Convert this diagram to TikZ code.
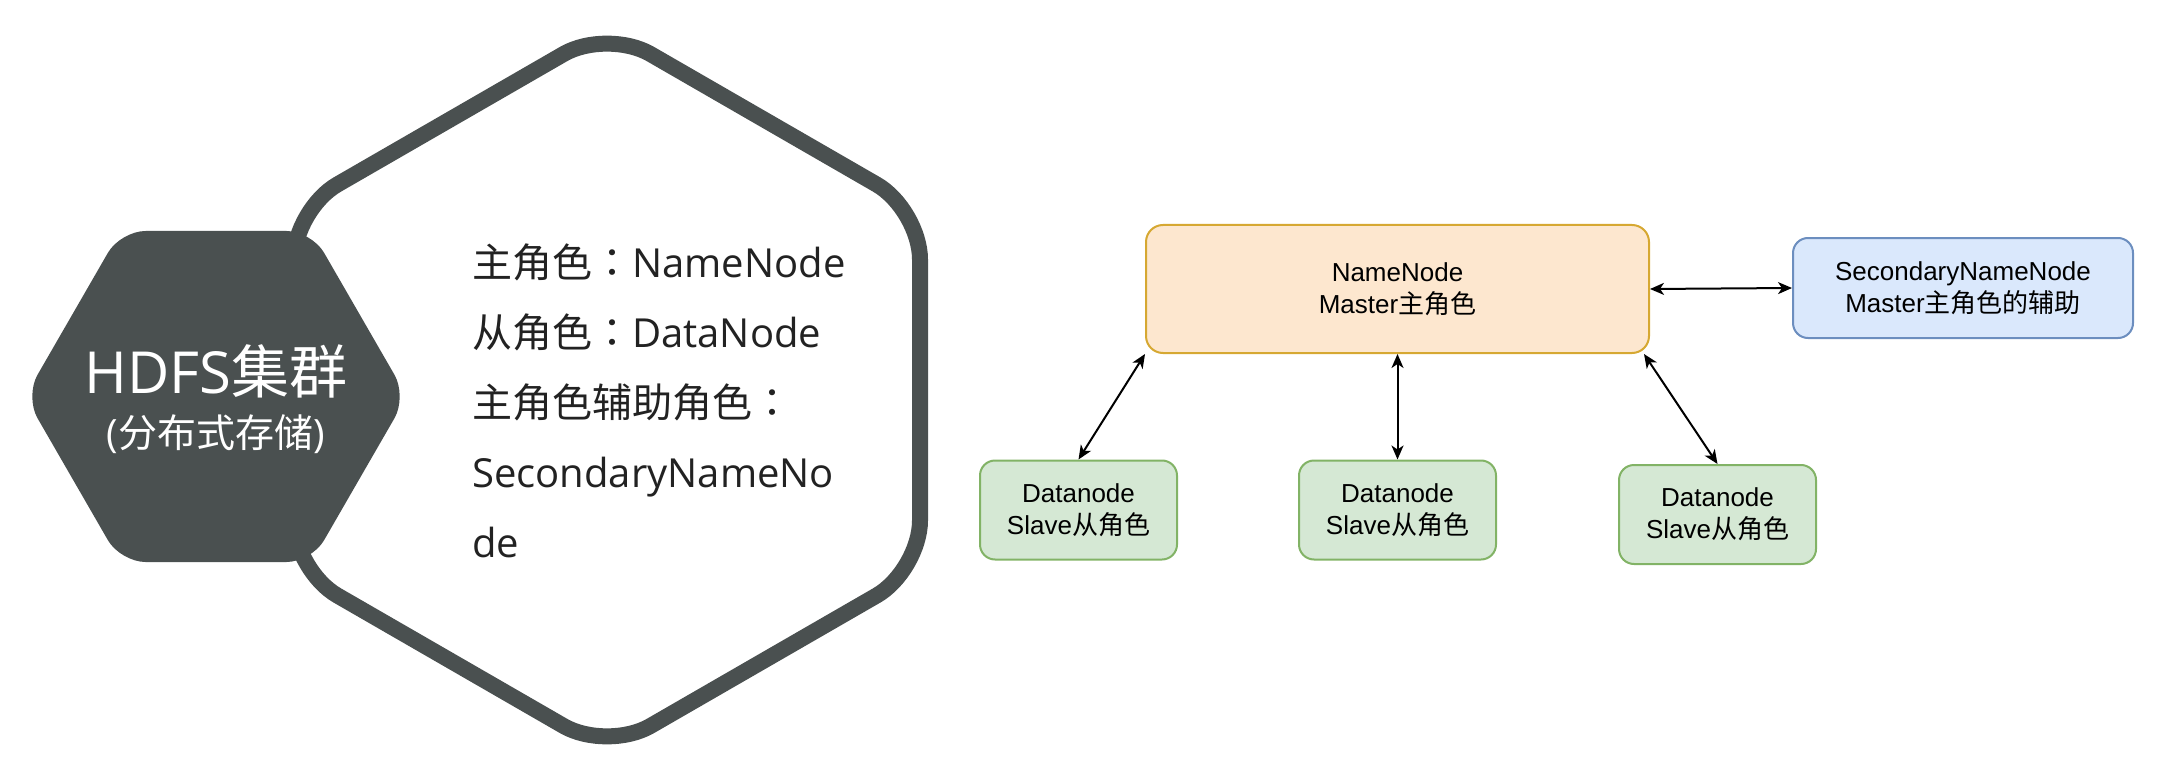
\documentclass[tikz,border=0pt]{standalone}
\usepackage{fontspec}
\setmainfont{Liberation Sans}
\newfontfamily\cjkfont{Noto Sans CJK SC}
\newfontfamily\cjkcolonfont{Noto Sans CJK TC}
\newfontfamily\latfont{Open Sans}
\newcommand{\zhtxt}[1]{{\cjkfont #1}}
\newcommand{\zhcolon}{{\cjkcolonfont ：}}
\usetikzlibrary{arrows.meta}
\definecolor{hexgray}{HTML}{4A5050}
\definecolor{txtdark}{HTML}{222222}
\definecolor{orfill}{HTML}{FDE7CF}
\definecolor{ordraw}{HTML}{D6A832}
\definecolor{blfill}{HTML}{DAE8FC}
\definecolor{bldraw}{HTML}{6C8EBF}
\definecolor{grfill}{HTML}{D5E8D4}
\definecolor{grdraw}{HTML}{82B366}
\begin{document}
\begin{tikzpicture}[x=1pt,y=-1pt,
  box/.style={draw, line width=2pt, rounded corners=17pt, align=center,
    font=\fontsize{26}{32}\selectfont, text=black, inner sep=0pt},
  nnbox/.style={box, fill=orfill, draw=ordraw, minimum width=503pt, minimum height=128pt},
  snbox/.style={box, fill=blfill, draw=bldraw, minimum width=340pt, minimum height=100pt, rounded corners=15pt},
  dnbox/.style={box, fill=grfill, draw=grdraw, minimum width=197pt, minimum height=99pt, rounded corners=15pt},
  link/.style={line width=2pt, draw=black,
    {Stealth[length=14pt,width=12pt,inset=4pt]}-{Stealth[length=14pt,width=12pt,inset=4pt]}},
  lefttxt/.style={anchor=base west, inner sep=0pt, text=txtdark, font=\latfont\fontsize{40}{48}\selectfont},
  hextxt/.style={anchor=base, inner sep=0pt, text=white}
]
\useasboundingbox (0,0) rectangle (2160,778);

% big outlined hexagon
\draw[hexgray, line width=16pt, rounded corners=50pt, fill=white]
  (763.5,119.25) -- (920,209.5) -- (920,570.5) -- (607,751) -- (294,570.5)
  -- (294,209.5) -- (607,29) -- cycle;

% small filled hexagon
\fill[hexgray, rounded corners=25pt]
  (216,231) -- (311.5,231) -- (407,396.5) -- (311.5,562) -- (120.5,562)
  -- (25,396.5) -- (120.5,231) -- cycle;

\node[hextxt, font=\latfont\fontsize{58}{64}\selectfont] (title) at (216,393) {HDFS\zhtxt{集群}};
\node[hextxt, font=\latfont\fontsize{39}{44}\selectfont] (subtitle) at (216,447) {(\zhtxt{分布式存储})};

\node[lefttxt] (l1) at (472,277) {\zhtxt{主角色}\zhcolon NameNode};
\node[lefttxt] (l2) at (472,347) {\zhtxt{从角色}\zhcolon DataNode};
\node[lefttxt] (l3) at (472,417) {\zhtxt{主角色辅助角色}\zhcolon};
\node[lefttxt] (l4) at (472,487) {SecondaryNameNo};
\node[lefttxt] (l5) at (472,557) {de};

% right diagram
\node[nnbox] (NN) at (1397.5,289) {NameNode\\Master\zhtxt{主角色}};
\node[snbox] (SNN) at (1963,288) {SecondaryNameNode\\Master\zhtxt{主角色的辅助}};
\node[dnbox] (DN1) at (1078.5,510) {Datanode\\Slave\zhtxt{从角色}};
\node[dnbox] (DN2) at (1397.5,510) {Datanode\\Slave\zhtxt{从角色}};
\node[dnbox] (DN3) at (1717.5,514.5) {Datanode\\Slave\zhtxt{从角色}};

\draw[link] (NN.east) -- (SNN.west);
\draw[link] (DN1.north) -- (NN.south west);
\draw[link] (DN2.north) -- (NN.south);
\draw[link] (DN3.north) -- ([xshift=-6pt]NN.south east);
\end{tikzpicture}
\end{document}
